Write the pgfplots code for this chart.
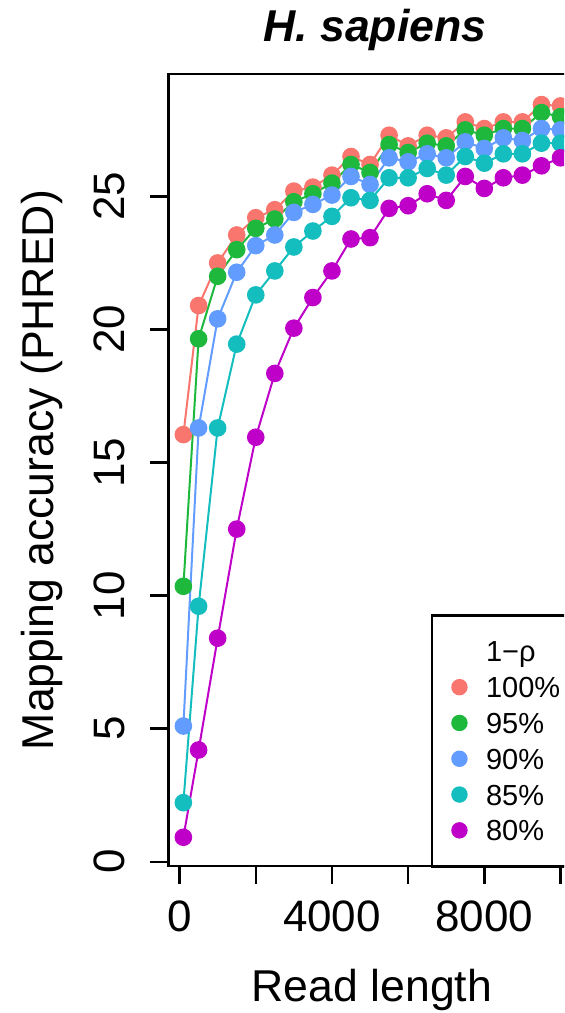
\documentclass[border=0pt]{standalone}
\usepackage{pgfplots}
\pgfplotsset{compat=1.18}
\usepackage{fontspec}
\setmainfont{Liberation Sans}
\definecolor{cA}{HTML}{F8766D}
\definecolor{cB}{HTML}{1DB83C}
\definecolor{cC}{HTML}{639CFF}
\definecolor{cD}{HTML}{14BDBE}
\definecolor{cE}{HTML}{BE00C8}
\begin{document}
\begin{tikzpicture}
\useasboundingbox (0,0) rectangle (282pt,506.5pt);
\clip (0,0) rectangle (282pt,506.5pt);
\begin{axis}[
  at={(84.15pt,73.5pt)}, anchor=south west,
  scale only axis, width=203.65pt, height=396pt,
  xmin=-296, xmax=10396, ymin=-0.16, ymax=29.6,
  axis line style={line width=1.2pt},
  xtick={0,2000,4000,6000,8000,10000},
  xticklabels={0,,4000,,8000,},
  ytick={0,5,10,15,20,25},
  tick pos=left, tick align=outside,
  major tick length=9pt,
  every tick/.style={black, line width=1.2pt},
  /pgf/number format/assume math mode=true,
  ticklabel style={font=\fontsize{22}{26}\selectfont, inner sep=0pt},
  xticklabel style={anchor=base},
  xticklabel shift=23.85pt,
  yticklabel style={rotate=90, anchor=base},
  yticklabel shift=13pt,
  scaled x ticks=false,
  title={\bfseries\itshape H. sapiens},
  every axis title shift=0pt,
  title style={at={(axis description cs:0.5,1)}, anchor=base, yshift=16pt, xshift=1.5pt, font=\fontsize{22.3}{26}\selectfont},
  xlabel={Read length},
  xlabel style={at={(axis description cs:0.5,0)}, anchor=base, yshift=-67.85pt, font=\fontsize{22.3}{26}\selectfont},
  ylabel={Mapping accuracy (PHRED)},
  ylabel style={at={([xshift=-57.5pt]axis description cs:0,0.5)}, anchor=base, font=\fontsize{22.3}{26}\selectfont},
  legend style={at={(0.6446,0.318)}, anchor=north west, draw=black, line width=1.2pt, fill=white,
    inner xsep=10.1pt, inner ysep=12.75pt, row sep=7.4pt, column sep=9.7pt,
    font=\fontsize{14.5}{17}\selectfont,
    nodes={inner sep=0pt, text height=10.5pt, text depth=0pt}},
  legend cell align=left,
  legend image code/.code={\draw[#1, line width=1pt, mark=*, mark size=3.6pt, only marks] plot coordinates {(3.6pt,0pt)};},
]
\addlegendimage{empty legend}
\addlegendentry{1−ρ}
\addplot[color=cA, line width=1pt, mark=*, mark size=3.9pt, mark options={solid, fill=cA, draw=cA}] coordinates {
(100,16.05) (500,20.9) (1000,22.5) (1500,23.55) (2000,24.2) (2500,24.5) (3000,25.2) (3500,25.35) (4000,25.8) (4500,26.5) (5000,26.2) (5500,27.3) (6000,26.9) (6500,27.3) (7000,27.2) (7500,27.8) (8000,27.55) (8500,27.8) (9000,27.8) (9500,28.45) (10000,28.4)};
\addlegendentry{100\%}
\addplot[color=cB, line width=1pt, mark=*, mark size=3.9pt, mark options={solid, fill=cB, draw=cB}] coordinates {
(100,10.35) (500,19.65) (1000,22.0) (1500,23.0) (2000,23.8) (2500,24.15) (3000,24.8) (3500,25.1) (4000,25.5) (4500,26.2) (5000,25.9) (5500,26.95) (6000,26.65) (6500,27.0) (7000,26.9) (7500,27.5) (8000,27.3) (8500,27.55) (9000,27.55) (9500,28.15) (10000,28.0)};
\addlegendentry{95\%}
\addplot[color=cC, line width=1pt, mark=*, mark size=3.9pt, mark options={solid, fill=cC, draw=cC}] coordinates {
(100,5.1) (500,16.3) (1000,20.4) (1500,22.15) (2000,23.15) (2500,23.55) (3000,24.4) (3500,24.7) (4000,25.05) (4500,25.75) (5000,25.45) (5500,26.45) (6000,26.3) (6500,26.6) (7000,26.45) (7500,27.05) (8000,26.8) (8500,27.2) (9000,27.1) (9500,27.55) (10000,27.5)};
\addlegendentry{90\%}
\addplot[color=cD, line width=1pt, mark=*, mark size=3.9pt, mark options={solid, fill=cD, draw=cD}] coordinates {
(100,2.22) (500,9.6) (1000,16.3) (1500,19.45) (2000,21.3) (2500,22.2) (3000,23.1) (3500,23.7) (4000,24.25) (4500,24.95) (5000,24.85) (5500,25.7) (6000,25.7) (6500,26.05) (7000,25.8) (7500,26.5) (8000,26.25) (8500,26.6) (9000,26.6) (9500,27.0) (10000,27.0)};
\addlegendentry{85\%}
\addplot[color=cE, line width=1pt, mark=*, mark size=3.9pt, mark options={solid, fill=cE, draw=cE}] coordinates {
(100,0.92) (500,4.2) (1000,8.4) (1500,12.5) (2000,15.95) (2500,18.35) (3000,20.05) (3500,21.2) (4000,22.2) (4500,23.4) (5000,23.45) (5500,24.55) (6000,24.65) (6500,25.1) (7000,24.85) (7500,25.75) (8000,25.3) (8500,25.7) (9000,25.8) (9500,26.15) (10000,26.45)};
\addlegendentry{80\%}
\end{axis}
\end{tikzpicture}
\end{document}
